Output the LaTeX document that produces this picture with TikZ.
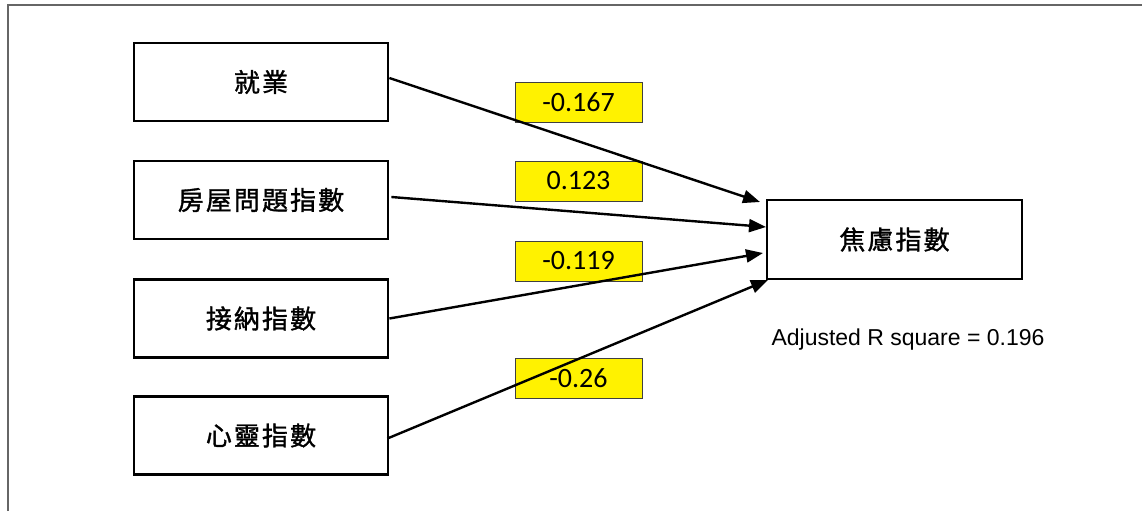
\documentclass[tikz,border=0pt]{standalone}
\usepackage{fontspec}
\setmainfont{Liberation Sans}
\newfontfamily\cjk{Noto Sans CJK TC}[LetterSpace=8, FakeBold=1.3]
\newfontfamily\calib{Carlito}
\usetikzlibrary{arrows.meta}
\tikzset{
  varbox/.style={draw=black, line width=2.8pt, minimum width=254pt, minimum height=78pt, inner sep=0pt, font=\cjk\fontsize{26}{30}\selectfont},
  coefbox/.style={draw=black!75, fill=yellow, line width=0.8pt, minimum width=127pt, minimum height=40pt, inner sep=0pt, font=\calib\fontsize{28}{30}\selectfont},
  path/.style={line width=2.4pt, -{Triangle[length=17pt,width=13pt]}},
  frame/.style={draw=black!60, line width=2pt}
}
\begin{document}
\begin{tikzpicture}[x=1pt,y=-1pt]
\useasboundingbox (0,0) rectangle (1142,511);
\draw[frame] (8,511) -- (8,5) -- (1142,5);

\node[varbox] (b1) at (261,82) {就業};
\node[varbox] (b2) at (261,200) {房屋問題指數};
\node[varbox] (b3) at (261,318.5) {接納指數};
\node[varbox] (b4) at (261,435.5) {心靈指數};
\node[varbox, minimum width=255pt, minimum height=79pt] (t) at (894.5,239.5) {焦慮指數};

\node[coefbox] (c1) at (578.5,102) {-0.167};
\node[coefbox] (c2) at (578.5,181) {0.123};
\node[coefbox] (c3) at (578.5,261) {-0.119};
\node[coefbox] (c4) at (578.5,378) {-0.26};

\coordinate (e1) at (760,202);
\coordinate (e2) at (766,227);
\coordinate (e3) at (763,253);
\coordinate (e4) at (768,280);

\draw[path] ([yshift=4pt]b1.east) -- (e1);
\draw[path] ([yshift=3pt,xshift=2pt]b2.east) -- (e2);
\draw[path] (b3.east) -- (e3);
\draw[path] ([yshift=-3pt,xshift=-2pt]b4.east) -- (e4);

\node[font=\fontsize{23}{27}\selectfont] (r2) at (908,340) {Adjusted R square = 0.196};
\end{tikzpicture}
\end{document}
